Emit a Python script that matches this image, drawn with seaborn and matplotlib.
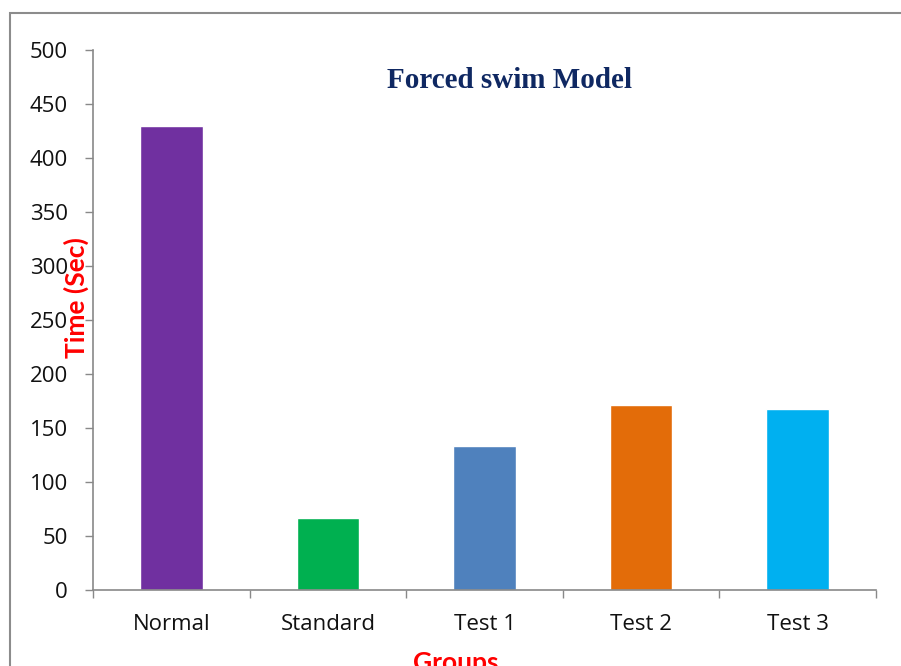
import pandas as pd
import numpy as np
import seaborn as sns
import matplotlib.pyplot as plt
from matplotlib.patches import Rectangle

groups = ['Normal', 'Standard', 'Test 1', 'Test 2', 'Test 3']
times = [430, 67, 133, 171, 168]
colors = ['#7030A0', '#00B050', '#4F81BD', '#E36C09', '#00B0F0']

df = pd.DataFrame({'Group': groups, 'Time': times})

sns.set_style('white')
plt.rcParams['font.family'] = ['Open Sans', 'DejaVu Sans']

fig = plt.figure(figsize=(9.01, 6.66), dpi=100)
ax = fig.add_axes([93 / 901, 1 - 590 / 666, (876 - 93) / 901, (590 - 50) / 666])

sns.barplot(data=df, x='Group', y='Time', hue='Group', palette=colors,
            width=0.4, legend=False, ax=ax, saturation=1)

ax.set_ylim(0, 500)
ax.set_xlim(-0.5, 4.5)
ax.set_yticks(np.arange(0, 501, 50))
ax.set_xlabel('')
ax.set_ylabel('')
ax.tick_params(axis='y', labelsize=16, length=6, width=1, color='#898989',
               direction='out', left=True, pad=12, labelcolor='#111111')
ax.tick_params(axis='x', labelsize=16, length=0, pad=17, labelcolor='#111111')
ax.set_xticks(np.arange(-0.5, 5, 1), minor=True)
ax.tick_params(axis='x', which='minor', length=6, width=1, color='#898989',
               direction='out', bottom=True)

for side in ['top', 'right']:
    ax.spines[side].set_visible(False)
for side in ['left', 'bottom']:
    ax.spines[side].set_color('#898989')
    ax.spines[side].set_linewidth(1.2)

ax.text(0.532, 0.944, 'Forced swim Model', transform=ax.transAxes,
        ha='center', va='center', fontsize=21, fontweight='bold',
        color='#0F2862', family='Liberation Serif')

fig.text(76 / 901, 1 - 298 / 666, 'Time (Sec)', rotation=90, ha='center',
         va='center', fontsize=19, fontweight='bold', color='#FF0000',
         family=['Lato', 'DejaVu Sans'])
fig.text(456 / 901, 1 - 663 / 666, 'Groups', ha='center', va='center',
         fontsize=19, fontweight='bold', color='#FF0000',
         family=['Lato', 'DejaVu Sans'])

fig.patches.append(Rectangle((10 / 901, -0.1), 1.0, 1.1 - 13 / 666,
                             transform=fig.transFigure, fill=False,
                             edgecolor='#8c8c8c', linewidth=1.5))

fig.savefig('out.png', dpi=100)
